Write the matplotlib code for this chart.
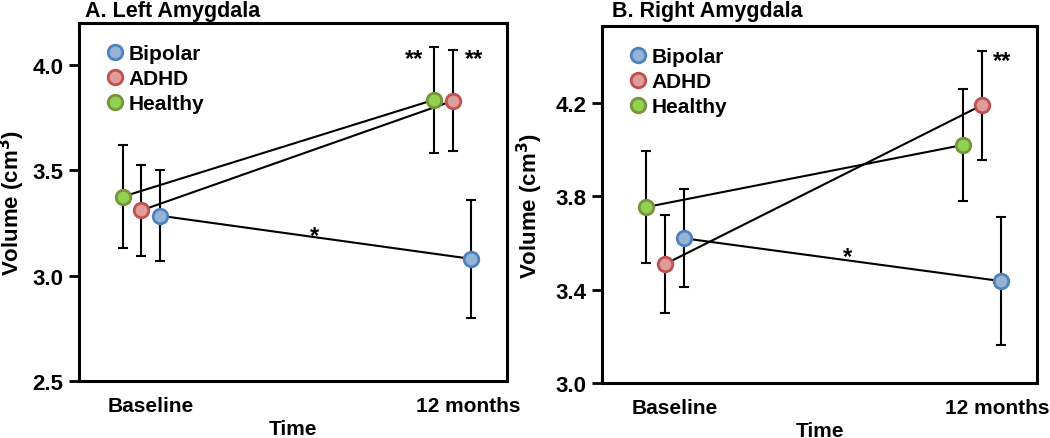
import matplotlib
matplotlib.use("Agg")
import matplotlib.pyplot as plt
import numpy as np

plt.rcParams["font.family"] = ["Liberation Sans", "DejaVu Sans"]
plt.rcParams["font.weight"] = "bold"
plt.rcParams["axes.labelweight"] = "bold"

times = ["Baseline", "12 months"]
groups = ["Bipolar", "ADHD", "Healthy"]

# Left amygdala: mean and error (cm3) at baseline / 12 months
left_bipolar = [3.285, 3.08]
left_bipolar_err = [0.215, 0.28]
left_adhd = [3.31, 3.83]
left_adhd_err = [0.215, 0.24]
left_healthy = [3.375, 3.835]
left_healthy_err = [0.245, 0.25]

# Right amygdala
right_bipolar = [3.62, 3.437]
right_bipolar_err = [0.21, 0.275]
right_adhd = [3.51, 4.19]
right_adhd_err = [0.21, 0.235]
right_healthy = [3.754, 4.02]
right_healthy_err = [0.24, 0.242]

fills = {"Bipolar": "#95b3d7", "ADHD": "#e09c9b", "Healthy": "#92d050"}
edges = {"Bipolar": "#4f81bd", "ADHD": "#c0504d", "Healthy": "#77933c"}
offsets = {"Healthy": -0.06, "ADHD": 0.0, "Bipolar": 0.06}

W, H = 1050, 439
fig = plt.figure(figsize=(W / 100, H / 100), dpi=100)


def panel(rect, data, ylim, yticks, title, title_x, ylab_x, stars):
    ax = fig.add_axes(rect)
    x = np.arange(len(times))
    for g in groups:
        mean, err = data[g]
        xs = x + offsets[g]
        ax.plot(xs, mean, color="black", lw=1.5, zorder=2)
        ax.errorbar(xs, mean, yerr=err, fmt="none", ecolor="black",
                    elinewidth=1.5, capsize=3.3, capthick=1.5, zorder=3)
    for g in groups:
        mean, err = data[g]
        ax.plot(x + offsets[g], mean, "o", ms=10.5, mfc=fills[g], mec=edges[g],
                mew=2, ls="none", label=g, zorder=4)
    ax.set_xlim(-0.2, 1.175)
    ax.set_ylim(*ylim)
    ax.set_yticks(yticks)
    ax.set_yticklabels([f"{t:.1f}" for t in yticks], fontsize=16)
    ax.set_xticks([0.03, 1.05])
    ax.set_xticklabels(times, fontsize=15)
    ax.tick_params(axis="x", length=0, pad=11)
    ax.tick_params(axis="y", length=7, width=2, pad=4)
    for s in ax.spines.values():
        s.set_linewidth(2.2)
    ax.set_xlabel("Time", fontsize=15, labelpad=3)
    ax.set_ylabel("Volume (cm$^\\mathbf{3}$)", fontsize=16)
    ax.yaxis.set_label_coords(ylab_x, 0.5)
    for sx, sy, txt in stars:
        ax.text(sx, sy, txt, fontsize=17, ha="center", va="center")
    ax.legend(loc="upper left", bbox_to_anchor=(0.007, 1.0), frameon=False,
              fontsize=15, handletextpad=0.05, labelspacing=0.3,
              borderaxespad=0.6, handlelength=1.2)
    fig.text(title_x / W, 1 - 11 / H, title, fontsize=15.5, va="center", ha="left")
    return ax


left = {"Bipolar": (left_bipolar, left_bipolar_err),
        "ADHD": (left_adhd, left_adhd_err),
        "Healthy": (left_healthy, left_healthy_err)}
right = {"Bipolar": (right_bipolar, right_bipolar_err),
         "ADHD": (right_adhd, right_adhd_err),
         "Healthy": (right_healthy, right_healthy_err)}

panel([79 / W, 1 - 382 / H, 428 / W, 358 / H], left, (2.5, 4.2),
      [2.5, 3.0, 3.5, 4.0], "A. Left Amygdala", 85, -0.122,
      [(0.875, 4.03, "**"), (1.07, 4.03, "**"), (0.555, 3.19, "*")])
panel([602 / W, 1 - 384 / H, 435 / W, 357 / H], right, (3.0, 4.53),
      [3.0, 3.4, 3.8, 4.2], "B. Right Amygdala", 612, -0.131,
      [(1.063, 4.38, "**"), (0.577, 3.54, "*")])

fig.savefig("out.png", dpi=100)
